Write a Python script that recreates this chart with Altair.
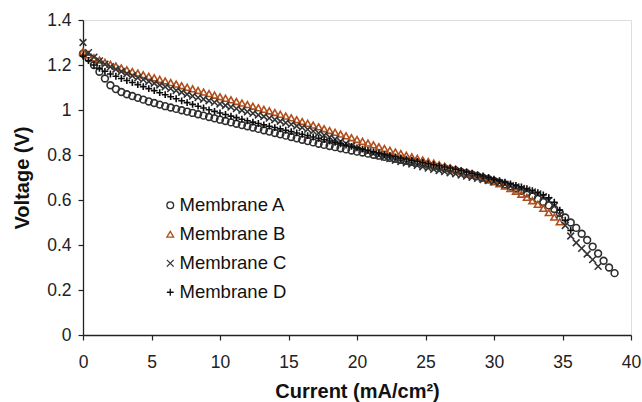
import altair as alt
import pandas as pd

current = [
    0.0, 0.4, 0.8, 1.2, 1.6, 2.0, 2.4, 2.8, 3.2, 3.6,
    4.0, 4.4, 4.8, 5.2, 5.6, 6.0, 6.4, 6.8, 7.2, 7.6,
    8.0, 8.4, 8.8, 9.2, 9.6, 10.0, 10.4, 10.8, 11.2, 11.6,
    12.0, 12.4, 12.8, 13.2, 13.6, 14.0, 14.4, 14.8, 15.2, 15.6,
    16.0, 16.4, 16.8, 17.2, 17.6, 18.0, 18.4, 18.8, 19.2, 19.6,
    20.0, 20.4, 20.8, 21.2, 21.6, 22.0, 22.4, 22.8, 23.2, 23.6,
    24.0, 24.4, 24.8, 25.2, 25.6, 26.0, 26.4, 26.8, 27.2, 27.6,
    28.0, 28.4, 28.8, 29.2, 29.6, 30.0, 30.4, 30.8, 31.2, 31.6,
    32.0, 32.4, 32.8, 33.2, 33.6, 34.0, 34.4, 34.8, 35.2, 35.6,
    36.0, 36.4, 36.8, 37.2, 37.6, 38.0, 38.4, 38.8,
]

membrane_a = [
    1.250, 1.230, 1.200, 1.170, 1.140, 1.110, 1.093, 1.080, 1.070, 1.062,
    1.054, 1.046, 1.038, 1.031, 1.024, 1.017, 1.011, 1.005, 0.999, 0.993,
    0.987, 0.981, 0.975, 0.969, 0.963, 0.957, 0.951, 0.945, 0.939, 0.933,
    0.928, 0.922, 0.916, 0.910, 0.904, 0.898, 0.892, 0.886, 0.880, 0.874,
    0.868, 0.862, 0.856, 0.850, 0.845, 0.840, 0.835, 0.830, 0.825, 0.820,
    0.815, 0.811, 0.806, 0.801, 0.797, 0.792, 0.788, 0.783, 0.779, 0.774,
    0.770, 0.765, 0.761, 0.756, 0.751, 0.746, 0.741, 0.736, 0.731, 0.725,
    0.719, 0.713, 0.706, 0.699, 0.692, 0.685, 0.677, 0.669, 0.660, 0.651,
    0.641, 0.630, 0.618, 0.605, 0.591, 0.576, 0.560, 0.542, 0.522, 0.500,
    0.476, 0.450, 0.422, 0.393, 0.362, 0.330, 0.300, 0.275,
]

membrane_b = [
    1.260, 1.245, 1.232, 1.222, 1.212, 1.203, 1.195, 1.187, 1.179, 1.171,
    1.164, 1.157, 1.150, 1.143, 1.136, 1.129, 1.122, 1.115, 1.108, 1.101,
    1.094, 1.087, 1.080, 1.073, 1.066, 1.059, 1.052, 1.045, 1.038, 1.031,
    1.024, 1.017, 1.010, 1.003, 0.996, 0.989, 0.981, 0.973, 0.965, 0.957,
    0.949, 0.941, 0.933, 0.925, 0.917, 0.909, 0.901, 0.893, 0.885, 0.877,
    0.869, 0.861, 0.853, 0.845, 0.837, 0.829, 0.821, 0.813, 0.806, 0.799,
    0.792, 0.785, 0.778, 0.771, 0.764, 0.757, 0.750, 0.743, 0.736, 0.729,
    0.722, 0.714, 0.706, 0.698, 0.690, 0.681, 0.672, 0.662, 0.651, 0.639,
    0.626, 0.612, 0.597, 0.581, 0.563, 0.544, 0.524, 0.503,
]

membrane_c = [
    1.300, 1.255, 1.235, 1.218, 1.204, 1.192, 1.181, 1.171, 1.161, 1.152,
    1.143, 1.135, 1.127, 1.119, 1.111, 1.103, 1.095, 1.087, 1.079, 1.070,
    1.062, 1.055, 1.048, 1.041, 1.034, 1.027, 1.020, 1.013, 1.006, 0.999,
    0.992, 0.985, 0.978, 0.971, 0.964, 0.957, 0.950, 0.943, 0.936, 0.929,
    0.922, 0.914, 0.906, 0.897, 0.888, 0.879, 0.870, 0.860, 0.850, 0.840,
    0.830, 0.822, 0.814, 0.806, 0.798, 0.791, 0.784, 0.777, 0.771, 0.765,
    0.760, 0.754, 0.748, 0.742, 0.736, 0.731, 0.726, 0.721, 0.716, 0.711,
    0.706, 0.701, 0.696, 0.691, 0.686, 0.681, 0.676, 0.670, 0.664, 0.658,
    0.651, 0.644, 0.636, 0.627, 0.615, 0.598, 0.573, 0.535, 0.487, 0.440,
    0.410, 0.385, 0.360, 0.335, 0.305,
]

membrane_d = [
    1.240, 1.220, 1.200, 1.185, 1.172, 1.160, 1.150, 1.140, 1.131, 1.122,
    1.113, 1.104, 1.095, 1.086, 1.077, 1.068, 1.059, 1.050, 1.041, 1.033,
    1.025, 1.017, 1.009, 1.001, 0.994, 0.987, 0.980, 0.973, 0.966, 0.959,
    0.952, 0.946, 0.940, 0.934, 0.928, 0.922, 0.916, 0.910, 0.904, 0.898,
    0.892, 0.886, 0.880, 0.874, 0.868, 0.862, 0.856, 0.850, 0.844, 0.838,
    0.832, 0.826, 0.820, 0.814, 0.808, 0.802, 0.797, 0.792, 0.787, 0.782,
    0.777, 0.772, 0.767, 0.762, 0.757, 0.752, 0.747, 0.742, 0.737, 0.731,
    0.725, 0.719, 0.713, 0.707, 0.700, 0.693, 0.686, 0.679, 0.672, 0.665,
    0.658, 0.650, 0.642, 0.633, 0.623, 0.610, 0.590, 0.555, 0.510, 0.465,
]

names = ["Membrane A", "Membrane B", "Membrane C", "Membrane D"]
series = [membrane_a, membrane_b, membrane_c, membrane_d]
colors = ["#2e2e2e", "#b04e1c", "#333333", "#0d0d0d"]
X_PATH = "M-1,-1L1,1M-1,1L1,-1"
PLUS_PATH = "M-1,0L1,0M0,-1L0,1"
shapes = ["circle", "triangle-up", X_PATH, PLUS_PATH]
sizes = [46, 46, 58, 76]

rows = []
for name, vals in zip(names, series):
    for i, v in enumerate(vals):
        rows.append({"Membrane": name, "Current": current[i], "Voltage": v})
df = pd.DataFrame(rows)

FONT = "Liberation Sans"

legend_cfg = dict(
    title=None,
    orient="none",
    legendX=78,
    legendY=176,
    padding=0,
    labelFont=FONT,
    labelFontSize=18.5,
    labelColor="#111",
    labelOffset=0,
    symbolSize=30,
    symbolStrokeWidth=1.3,
    rowPadding=10,
)

chart = (
    alt.Chart(df)
    .mark_point(filled=False, strokeWidth=1.6, opacity=1)
    .encode(
        x=alt.X(
            "Current:Q",
            scale=alt.Scale(domain=[0, 40], nice=False, zero=False),
            axis=alt.Axis(
                values=[0, 5, 10, 15, 20, 25, 30, 35, 40],
                title="Current (mA/cm²)",
                grid=False,
                tickSize=5,
                labelPadding=13,
                labelFlush=False,
                labelFont=FONT,
                labelFontSize=17.5,
                labelColor="#222",
                domainColor="#222",
                domainWidth=1.3,
                tickColor="#222",
                tickWidth=1.2,
                titleFont=FONT,
                titleFontSize=20,
                titleFontWeight="bold",
                titleColor="#111",
                titleX=274,
                titleY=62,
                titleAlign="center",
                titleBaseline="alphabetic",
            ),
        ),
        y=alt.Y(
            "Voltage:Q",
            scale=alt.Scale(domain=[0, 1.4], nice=False),
            axis=alt.Axis(
                values=[0, 0.2, 0.4, 0.6, 0.8, 1.0, 1.2, 1.4],
                format="~g",
                title="Voltage (V)",
                grid=False,
                tickSize=5,
                labelPadding=7,
                labelFlush=False,
                labelFont=FONT,
                labelFontSize=17.5,
                labelColor="#222",
                domainColor="#222",
                domainWidth=1.3,
                tickColor="#222",
                tickWidth=1.2,
                titleFont=FONT,
                titleFontSize=20,
                titleFontWeight="bold",
                titleColor="#111",
                titleX=-55,
                titleY=157.5,
                titleAlign="center",
                titleBaseline="alphabetic",
            ),
        ),
        color=alt.Color(
            "Membrane:N",
            scale=alt.Scale(domain=names, range=colors),
            legend=alt.Legend(**legend_cfg),
        ),
        shape=alt.Shape(
            "Membrane:N",
            scale=alt.Scale(domain=names, range=shapes),
            legend=alt.Legend(**legend_cfg),
        ),
        size=alt.Size(
            "Membrane:N",
            scale=alt.Scale(domain=names, range=sizes),
            legend=None,
        ),
    )
    .properties(
        width=548,
        height=315,
        autosize=alt.AutoSizeParams(type="none"),
        padding={"left": 83, "top": 20, "right": 11, "bottom": 67},
    )
    .configure_view(stroke="#999999", strokeWidth=1.2)
    .configure(background="white")
)

chart.save("out.html", embed_options={"renderer": "svg", "actions": False})
